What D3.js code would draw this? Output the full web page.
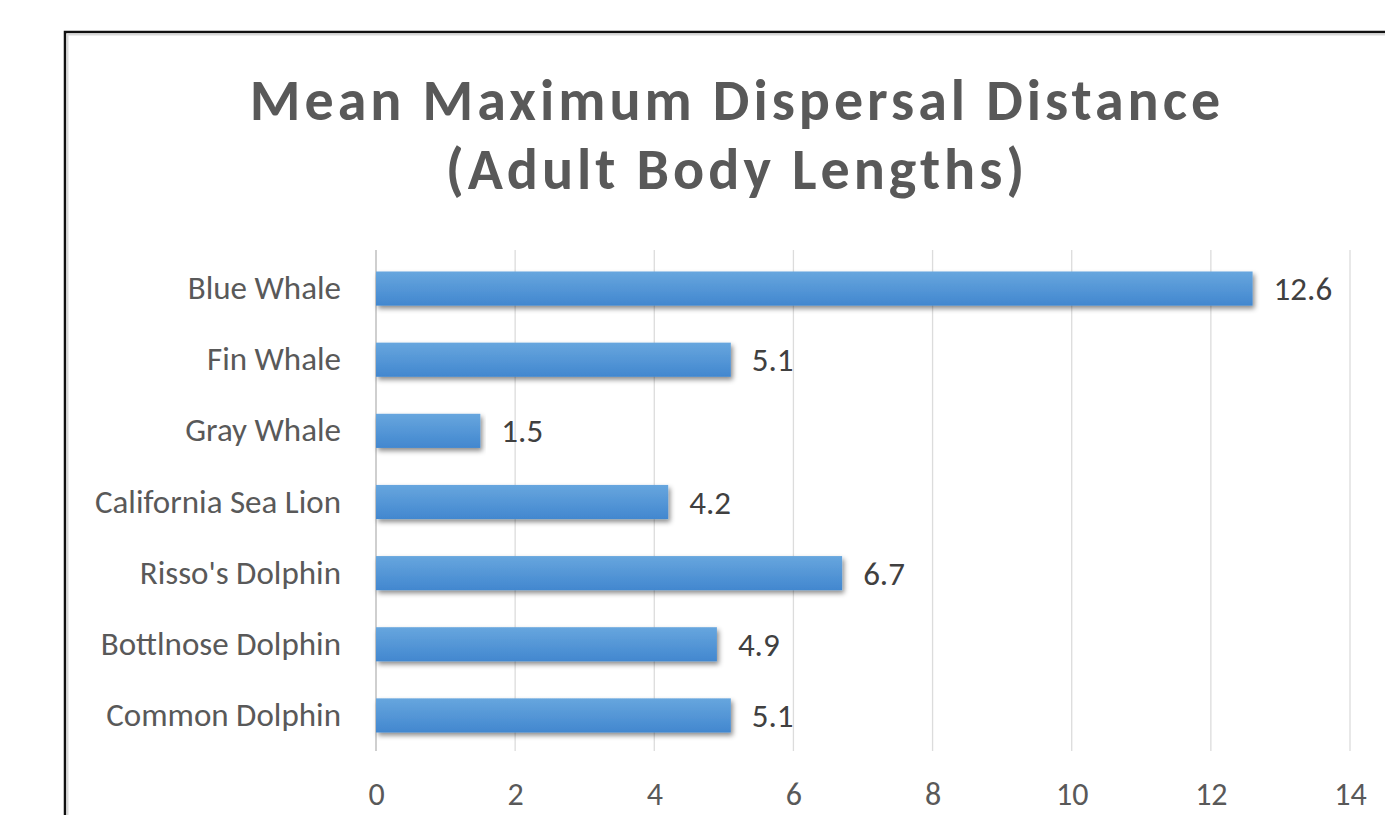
<!DOCTYPE html>
<html>
<head>
<meta charset="utf-8">
<script src="https://cdn.jsdelivr.net/npm/d3@7"></script>
<style>
  body { margin: 0; background: #fff; }
  svg { display: block; }
</style>
</head>
<body>
<div class="vis-holder"></div>
<script>
const width = 1385;
const height = 815;

// data
const species = ["Blue Whale", "Fin Whale", "Gray Whale", "California Sea Lion",
    "Risso's Dolphin", "Bottlnose Dolphin", "Common Dolphin"];
const distances = [12.6, 5.1, 1.5, 4.2, 6.7, 4.9, 5.1];
const xTicks = [0, 2, 4, 6, 8, 10, 12, 14];
const titleLines = ["Mean Maximum Dispersal Distance", "(Adult Body Lengths)"];

const font = "Carlito, Lato, 'Liberation Sans', sans-serif";

const svg = d3.select(".vis-holder").append("svg")
    .attr("width", width)
    .attr("height", height);

const defs = svg.append("defs");
const grad = defs.append("linearGradient")
    .attr("id", "barGrad")
    .attr("x1", 0).attr("y1", 0).attr("x2", 0).attr("y2", 1);
grad.append("stop").attr("offset", "0%").attr("stop-color", "#67a6de");
grad.append("stop").attr("offset", "100%").attr("stop-color", "#4287cf");

const shadow = defs.append("filter")
    .attr("id", "shadow")
    .attr("x", "-5%").attr("y", "-20%")
    .attr("width", "110%").attr("height", "160%");
shadow.append("feDropShadow")
    .attr("dx", 2).attr("dy", 3)
    .attr("stdDeviation", 2.5)
    .attr("flood-color", "#000")
    .attr("flood-opacity", 0.45);

// frame
svg.append("path")
    .attr("d", `M${65},${height} V${32} H${width}`)
    .attr("fill", "none")
    .attr("stroke", "#111")
    .attr("stroke-width", 2.5);
svg.append("path")
    .attr("d", `M${67.5},${height} V${34.5} H${width}`)
    .attr("fill", "none")
    .attr("stroke", "#d9d9d9")
    .attr("stroke-width", 2);

// title
svg.append("g").selectAll("text")
    .data(titleLines)
    .enter().append("text")
    .attr("x", 737)
    .attr("y", (d, i) => 120 + i * 69)
    .attr("text-anchor", "middle")
    .attr("font-family", font)
    .attr("font-weight", "bold")
    .attr("font-size", 58)
    .attr("letter-spacing", 4)
    .attr("fill", "#595959")
    .text(d => d);

const x = d3.scaleLinear()
    .domain([0, 14])
    .range([376, 1350]);

const y = d3.scaleBand()
    .domain(species)
    .range([253, 751])
    .paddingInner(0.52)
    .paddingOuter(0.26);

// gridlines
svg.append("g").selectAll("line")
    .data(xTicks)
    .enter().append("line")
    .attr("x1", d => x(d)).attr("x2", d => x(d))
    .attr("y1", 250).attr("y2", 751)
    .attr("stroke", d => d === 0 ? "#cfcfcf" : "#dcdcdc")
    .attr("stroke-width", d => d === 0 ? 2 : 1.3);

// x axis labels
const xAxis = d3.axisBottom(x).tickValues(xTicks).tickSize(0).tickPadding(0);
const gx = svg.append("g")
    .attr("transform", "translate(0,805)")
    .call(xAxis);
gx.select(".domain").remove();
gx.selectAll("text")
    .attr("font-family", font)
    .attr("font-size", 32)
    .attr("fill", "#595959")
    .attr("dy", null);

// y axis labels
const yAxis = d3.axisLeft(y).tickSize(0).tickPadding(0);
const gy = svg.append("g")
    .attr("transform", "translate(341,0)")
    .call(yAxis);
gy.select(".domain").remove();
gy.selectAll("text")
    .attr("font-family", font)
    .attr("font-size", 33)
    .attr("fill", "#595959");

// bars
svg.append("g").selectAll("rect")
    .data(species)
    .enter().append("rect")
    .attr("x", x(0))
    .attr("y", d => y(d))
    .attr("width", (d, i) => x(distances[i]) - x(0))
    .attr("height", y.bandwidth())
    .attr("fill", "url(#barGrad)")
    .attr("filter", "url(#shadow)");

// value labels
svg.append("g").selectAll("text")
    .data(species)
    .enter().append("text")
    .attr("x", (d, i) => x(distances[i]) + 21)
    .attr("y", d => y(d) + y.bandwidth() / 2)
    .attr("dy", "0.35em")
    .attr("font-family", font)
    .attr("font-size", 33)
    .attr("fill", "#404040")
    .text((d, i) => distances[i].toFixed(1));
</script>
</body>
</html>
